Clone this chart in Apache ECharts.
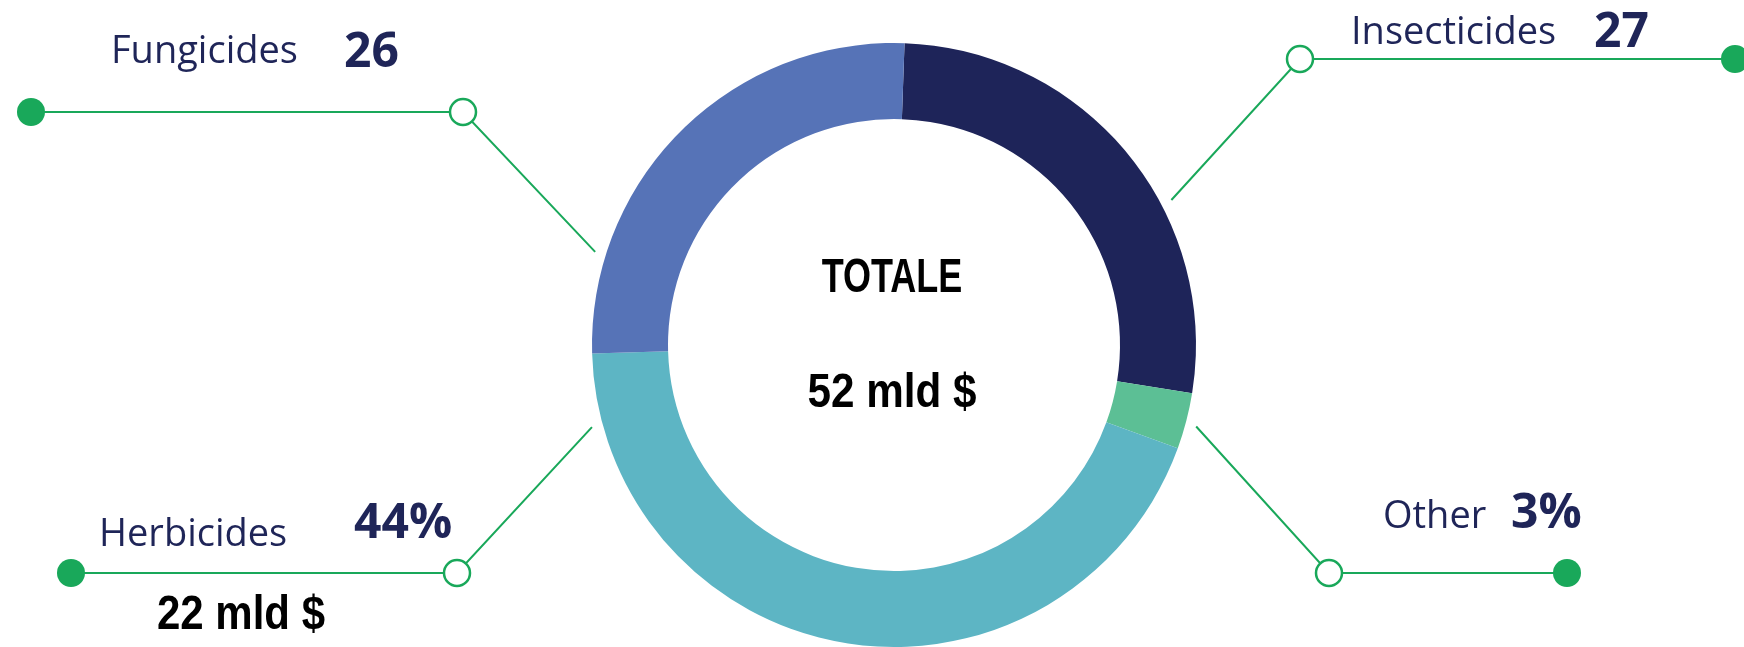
<!DOCTYPE html>
<html><head><meta charset="utf-8">
<script src="https://cdn.jsdelivr.net/npm/echarts@6/dist/echarts.min.js"></script>
<style>html,body{margin:0;padding:0;background:#fff}#chart{width:1744px;height:647px}</style>
</head><body><div id="chart"></div>
<script>
// ---- data ----
const categories = ['Insecticides', 'Other', 'Herbicides', 'Fungicides'];
const shares = [27, 3, 44, 26];
const valueLabels = ['27', '3%', '44%', '26'];
const totalTitle = 'TOTALE';
const totalValue = '52 mld $';
const herbicidesValue = '22 mld $';

// ---- styles / layout ----
const sliceColors = ['#1e2459', '#5cbf95', '#5db5c4', '#5673b7'];
const NAVY = '#1f2558';
const GREEN = '#19a85a';
const CX = 894, CY = 345, R_IN = 226, R_OUT = 302;
const LEAD_R = 313;
const labelFont = "'Open Sans', 'Noto Sans', sans-serif";
const condFont = "'Liberation Sans', Arial, sans-serif";

// per category: anchor angle (deg clockwise from top), elbow, end, name pos, value pos
const leaderLayout = [
  { angle: 62.4,  elbow: [1300, 59],  end: [1735, 59],  name: [1351, 33],  value: [1594, 33] },
  { angle: 105.1, elbow: [1329, 573], end: [1567, 573], name: [1383, 517], value: [1511, 514] },
  { angle: 254.8, elbow: [457, 573],  end: [71, 573],   name: [99, 535],   value: [354, 524] },
  { angle: 287.3, elbow: [463, 112],  end: [31, 112],   name: [111, 52],   value: [344, 53] }
];

const graphics = [];
categories.forEach(function (name, i) {
  const L = leaderLayout[i];
  const a = L.angle * Math.PI / 180;
  const start = [CX + LEAD_R * Math.sin(a), CY - LEAD_R * Math.cos(a)];
  graphics.push({
    type: 'polyline', silent: true,
    shape: { points: [start, L.elbow, L.end] },
    style: { stroke: GREEN, lineWidth: 2, fill: null }
  });
  graphics.push({
    type: 'circle', silent: true,
    shape: { cx: L.elbow[0], cy: L.elbow[1], r: 13 },
    style: { fill: '#fff', stroke: GREEN, lineWidth: 2.5 }
  });
  graphics.push({
    type: 'circle', silent: true,
    shape: { cx: L.end[0], cy: L.end[1], r: 14 },
    style: { fill: GREEN }
  });
  graphics.push({
    type: 'text', silent: true, x: L.name[0], y: L.name[1],
    style: { text: name, fill: NAVY, fontSize: 38, fontFamily: labelFont, fontWeight: 'normal', align: 'left', verticalAlign: 'middle' }
  });
  graphics.push({
    type: 'text', silent: true, x: L.value[0], y: L.value[1],
    style: { text: valueLabels[i], fill: NAVY, fontSize: 48, fontFamily: labelFont, fontWeight: 'bold', align: 'left', verticalAlign: 'middle' }
  });
});
graphics.push({
  type: 'text', silent: true, x: 241, y: 616, scaleX: 0.875,
  style: { text: herbicidesValue, fill: '#000', fontSize: 48, fontFamily: condFont, fontWeight: 'bold', align: 'center', verticalAlign: 'middle' }
});
graphics.push({
  type: 'text', silent: true, x: CX - 2, y: 279, scaleX: 0.75,
  style: { text: totalTitle, fill: '#000', fontSize: 48, fontFamily: condFont, fontWeight: 'bold', align: 'center', verticalAlign: 'middle' }
});
graphics.push({
  type: 'text', silent: true, x: CX - 2, y: 394, scaleX: 0.88,
  style: { text: totalValue, fill: '#000', fontSize: 48, fontFamily: condFont, fontWeight: 'bold', align: 'center', verticalAlign: 'middle' }
});

const chart = echarts.init(document.getElementById('chart'), null, { renderer: 'canvas' });
chart.setOption({
  backgroundColor: '#ffffff',
  animation: false,
  color: sliceColors,
  series: [{
    type: 'pie',
    center: [CX, CY],
    radius: [R_IN, R_OUT],
    startAngle: 88,
    clockwise: true,
    silent: true,
    label: { show: false },
    labelLine: { show: false },
    itemStyle: { borderWidth: 0 },
    data: categories.map(function (c, i) { return { name: c, value: shares[i] }; })
  }],
  graphic: graphics
});
</script>
</body></html>
